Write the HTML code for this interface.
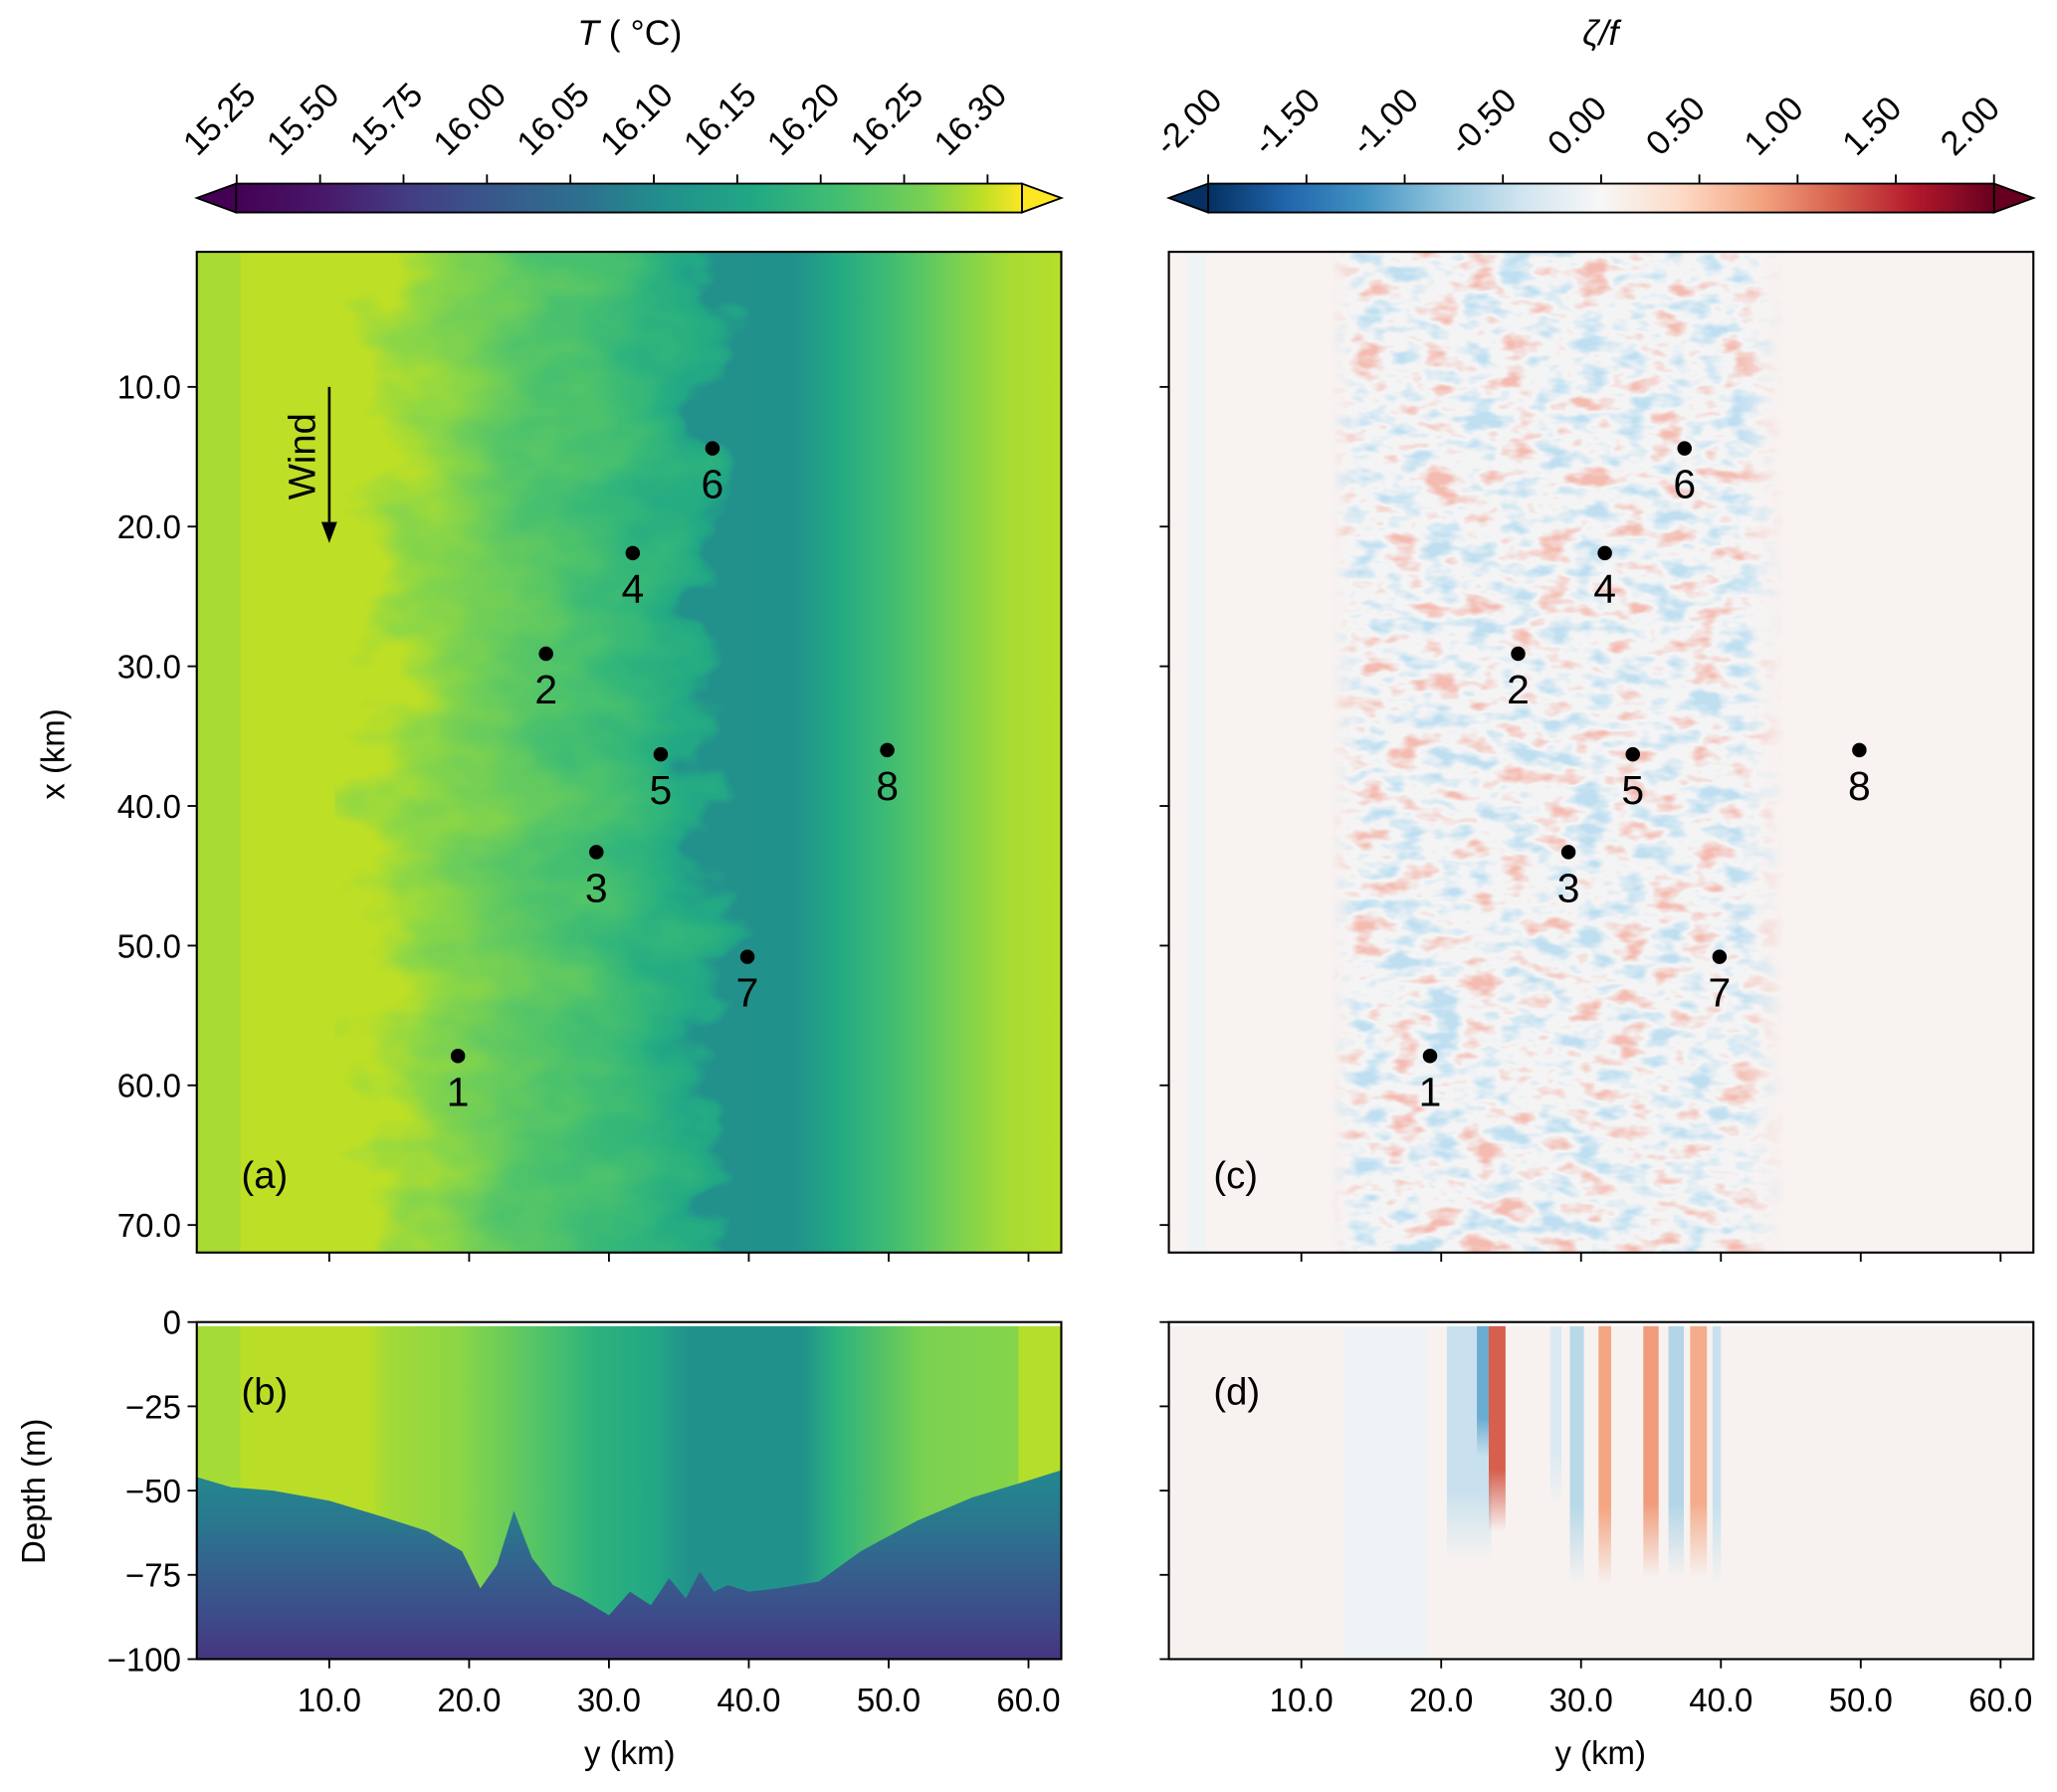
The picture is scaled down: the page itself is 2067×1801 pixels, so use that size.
<!DOCTYPE html>
<html><head><meta charset="utf-8"><style>
html,body{margin:0;padding:0;background:#fff}
svg{display:block}
text{font-family:"Liberation Sans","DejaVu Sans",sans-serif;fill:#000}
</style></head><body>
<svg id="fig" width="2067" height="1801" viewBox="0 0 1568 1366.3" preserveAspectRatio="none" xmlns="http://www.w3.org/2000/svg">
<defs>
  <linearGradient id="gA" gradientUnits="userSpaceOnUse" x1="150" x2="809" y1="0" y2="0">
    <stop offset="0" stop-color="#a8db34"/><stop offset="0.05" stop-color="#a8db34"/>
    <stop offset="0.051" stop-color="#bddf26"/><stop offset="0.2" stop-color="#bddf26"/>
    <stop offset="0.26" stop-color="#8fd744"/><stop offset="0.34" stop-color="#6ccd5a"/>
    <stop offset="0.43" stop-color="#4ac16d"/><stop offset="0.52" stop-color="#2fb47c"/>
    <stop offset="0.58" stop-color="#22a785"/><stop offset="0.6" stop-color="#21918c"/>
    <stop offset="0.69" stop-color="#21918c"/><stop offset="0.74" stop-color="#22a884"/>
    <stop offset="0.81" stop-color="#44bf70"/><stop offset="0.88" stop-color="#7ad151"/>
    <stop offset="0.94" stop-color="#a8db34"/><stop offset="1" stop-color="#b5de2b"/>
  </linearGradient>
  <linearGradient id="gB" gradientUnits="userSpaceOnUse" x1="150" x2="809" y1="0" y2="0">
    <stop offset="0" stop-color="#a5db36"/><stop offset="0.05" stop-color="#a5db36"/>
    <stop offset="0.051" stop-color="#bade28"/><stop offset="0.2" stop-color="#bade28"/>
    <stop offset="0.22" stop-color="#a2da37"/><stop offset="0.3" stop-color="#8ed645"/>
    <stop offset="0.33" stop-color="#7ad151"/><stop offset="0.41" stop-color="#4ac16d"/>
    <stop offset="0.46" stop-color="#2db27d"/><stop offset="0.53" stop-color="#22a785"/>
    <stop offset="0.57" stop-color="#21918c"/><stop offset="0.7" stop-color="#21918c"/>
    <stop offset="0.74" stop-color="#2db27d"/><stop offset="0.84" stop-color="#7ad151"/>
    <stop offset="0.95" stop-color="#86d549"/><stop offset="0.951" stop-color="#b5de2b"/>
    <stop offset="1" stop-color="#b5de2b"/>
  </linearGradient>
  <linearGradient id="gDeep" gradientUnits="userSpaceOnUse" x1="0" x2="0" y1="1120" y2="1265">
    <stop offset="0" stop-color="#23898e"/><stop offset="0.3" stop-color="#2a768e"/>
    <stop offset="0.55" stop-color="#355f8d"/><stop offset="0.8" stop-color="#3e4989"/>
    <stop offset="1" stop-color="#463480"/>
  </linearGradient>
  <linearGradient id="gCbT" gradientUnits="userSpaceOnUse" x1="180" x2="779" y1="0" y2="0">
    <stop offset="0" stop-color="#440154"/><stop offset="0.11" stop-color="#48186a"/>
    <stop offset="0.22" stop-color="#433d84"/><stop offset="0.33" stop-color="#38598c"/>
    <stop offset="0.44" stop-color="#2d708e"/><stop offset="0.55" stop-color="#21918c"/>
    <stop offset="0.66" stop-color="#22a884"/><stop offset="0.77" stop-color="#44bf70"/>
    <stop offset="0.88" stop-color="#7ad151"/><stop offset="0.95" stop-color="#bddf26"/>
    <stop offset="1" stop-color="#fde725"/>
  </linearGradient>
  <linearGradient id="gCbV" gradientUnits="userSpaceOnUse" x1="921" x2="1520" y1="0" y2="0">
    <stop offset="0" stop-color="#053061"/><stop offset="0.1" stop-color="#2166ac"/>
    <stop offset="0.2" stop-color="#4393c3"/><stop offset="0.3" stop-color="#92c5de"/>
    <stop offset="0.4" stop-color="#d1e5f0"/><stop offset="0.5" stop-color="#f7f7f7"/>
    <stop offset="0.6" stop-color="#fddbc7"/><stop offset="0.7" stop-color="#f4a582"/>
    <stop offset="0.8" stop-color="#d6604d"/><stop offset="0.9" stop-color="#b2182b"/>
    <stop offset="1" stop-color="#67001f"/>
  </linearGradient>
  <filter id="warp" filterUnits="userSpaceOnUse" x="100" y="150" width="760" height="850">
    <feTurbulence type="fractalNoise" baseFrequency="0.014 0.022" numOctaves="3" seed="7" result="n"/>
    <feDisplacementMap in="SourceGraphic" in2="n" scale="120" xChannelSelector="R" yChannelSelector="G"/>
  </filter>
  <filter id="vort" filterUnits="userSpaceOnUse" x="1000" y="192" width="380" height="763">
    <feTurbulence type="fractalNoise" baseFrequency="0.035 0.07" numOctaves="3" seed="3" result="n"/>
    <feColorMatrix in="n" type="matrix" values="0 0 0 0 0.9  0 0 0 0 0.5  0 0 0 0 0.44  4.5 0 0 0 -2.55" result="red"/>
    <feColorMatrix in="n" type="matrix" values="0 0 0 0 0.52  0 0 0 0 0.74  0 0 0 0 0.88  -4.5 0 0 0 2.15" result="blue"/>
    <feMerge><feMergeNode in="red"/><feMergeNode in="blue"/></feMerge>
  </filter>
  <linearGradient id="bandMask" gradientUnits="userSpaceOnUse" x1="1015" x2="1360" y1="0" y2="0">
    <stop offset="0" stop-color="#fff" stop-opacity="0"/><stop offset="0.06" stop-color="#fff" stop-opacity="1"/>
    <stop offset="0.9" stop-color="#fff" stop-opacity="1"/><stop offset="1" stop-color="#fff" stop-opacity="0"/>
  </linearGradient>
  <mask id="mBand"><rect x="1000" y="192" width="380" height="763" fill="url(#bandMask)"/></mask>
  <clipPath id="clipA"><rect x="150" y="192" width="659" height="763"/></clipPath>
  <clipPath id="clipMix"><rect x="255" y="192" width="320" height="763"/></clipPath>
  <clipPath id="clipB"><rect x="150" y="1011" width="659" height="254"/></clipPath>
  <clipPath id="clipD"><rect x="891" y="1011" width="659" height="254"/></clipPath>
  <marker id="arr" markerWidth="12" markerHeight="16" refX="6" refY="14" orient="auto-start-reverse" markerUnits="userSpaceOnUse" viewBox="0 0 12 16">
    <path d="M0,0 L6,16 L12,0 Z" fill="#000"/>
  </marker>
</defs>
<g id="layer"></g>
</svg>
<script>
// ---- data ----
const ptY = [19.2, 25.5, 29.1, 31.7, 33.7, 37.4, 39.9, 49.9];
const ptX = [57.9, 29.1, 43.3, 21.9, 36.3, 14.4, 50.8, 36.0];
const ptLabels = ["1","2","3","4","5","6","7","8"];
const yTicks = [10, 20, 30, 40, 50, 60];
const xTicks = [10, 20, 30, 40, 50, 60, 70];
const depthTicks = [0, -25, -50, -75, -100];
const tempTickLabels = ["15.25","15.50","15.75","16.00","16.05","16.10","16.15","16.20","16.25","16.30"];
const vortTickValues = [-2, -1.5, -1, -0.5, 0, 0.5, 1, 1.5, 2];
const mldKm = [0.5, 3, 6, 10, 14, 17, 19.5, 20.8, 22, 23.2, 24.5, 26, 28, 30, 31.5, 33, 34.3, 35.5, 36.5, 37.5, 38.5, 40, 42, 45, 48, 52, 56, 60, 62.3];
const mldDepth = [-46, -49, -50, -53, -58, -62, -68, -79, -72, -56, -70, -78, -82, -87, -80, -84, -76, -82, -74, -80, -78, -80, -79, -77, -68, -59, -52, -47, -44];
const stripeKm = [22.0, 23.0, 24.0, 28.2, 29.7, 31.7, 35.0, 36.8, 38.4, 39.7];
const stripeWidth = [3.2, 0.9, 1.2, 0.8, 1.0, 0.9, 1.1, 1.1, 1.2, 0.6];
const stripeVal = [-0.45, -1.0, 1.2, -0.3, -0.55, 0.8, 0.85, -0.6, 0.75, -0.45];
const stripeBottom = [-71, -40, -62, -55, -78, -78, -76, -76, -76, -78];

// ---- scales ----
const NS = "http://www.w3.org/2000/svg";
const L = document.getElementById("layer");
const yS = km => 144.4 + km * 10.66;
const xS = km => 188.5 + km * 10.65;
const dS = m => 1008 + (-m) * 2.57;
const OFF = 741;
function el(tag, attrs, parent) {
  const e = document.createElementNS(NS, tag);
  for (const k in attrs) e.setAttribute(k, attrs[k]);
  (parent || L).appendChild(e);
  return e;
}
function txt(s, attrs, parent) { const t = el("text", attrs, parent); t.textContent = s; return t; }
const RDBU = [[5,48,97],[33,102,172],[67,147,195],[146,197,222],[209,229,240],[247,247,247],[253,219,199],[244,165,130],[214,96,77],[178,24,43],[103,0,31]];
function vcol(v) {
  let t = (v + 2) / 4 * 10; t = Math.max(0, Math.min(10, t));
  const i = Math.min(9, Math.floor(t)), f = t - i;
  const c = RDBU[i].map((a, k) => Math.round(a + (RDBU[i + 1][k] - a) * f));
  return "rgb(" + c.join(",") + ")";
}

// ---- panel (a) ----
const gA = el("g", {"clip-path": "url(#clipA)"});


el("rect", {x: 150, y: 192, width: 659, height: 763, fill: "url(#gA)"}, gA);
const mix = el("g", {"clip-path": "url(#clipMix)"}, gA);
el("rect", {x: 60, y: 100, width: 840, height: 950, fill: "url(#gA)", filter: "url(#warp)"}, mix);

// ---- panel (c) ----
const gC = el("g", {});


el("rect", {x: 891, y: 192, width: 659, height: 763, fill: "#f8f2f0"}, gC);
el("rect", {x: 905, y: 192, width: 14, height: 763, fill: "#eef3f6"}, gC);
el("rect", {x: 1000, y: 192, width: 380, height: 763, fill: "#f4f4f5", mask: "url(#mBand)"}, gC);
const band = el("g", {mask: "url(#mBand)"}, gC);
el("rect", {x: 1000, y: 192, width: 380, height: 763, fill: "#fff", filter: "url(#vort)"}, band);

// ---- panel (b) ----
const gB = el("g", {"clip-path": "url(#clipB)"});


el("rect", {x: 150, y: 1011, width: 659, height: 254, fill: "url(#gB)"}, gB);
let pts = [[150, 1270]];
mldKm.forEach((k, i) => pts.push([yS(k), dS(mldDepth[i])]));
pts.push([809, dS(mldDepth[mldDepth.length - 1])], [809, 1270]);
pts[1][0] = 150;
const deep = el("polygon", {points: pts.map(p => p.join(",")).join(" "), fill: "url(#gDeep)"}, gB);


el("rect", {x: 150, y: 1008, width: 659, height: 3, fill: "#fff"});

// ---- panel (d) ----
const gD = el("g", {"clip-path": "url(#clipD)"});


el("rect", {x: 891, y: 1011, width: 659, height: 254, fill: "#f7f2f0"}, gD);
el("rect", {x: yS(13) + OFF, y: 1011, width: yS(19) - yS(13), height: 254, fill: "#f0f3f5"}, gD);
stripeKm.forEach((k, i) => {
  const c = vcol(stripeVal[i]);
  const gid = "sg" + i;
  const lg = el("linearGradient", {id: gid, x1: 0, x2: 0, y1: 0, y2: 1}, document.querySelector("defs"));
  el("stop", {offset: 0, "stop-color": c}, lg);
  el("stop", {offset: 0.7, "stop-color": c}, lg);
  el("stop", {offset: 1, "stop-color": c, "stop-opacity": 0}, lg);
  const x0 = yS(k - stripeWidth[i] / 2) + OFF, x1 = yS(k + stripeWidth[i] / 2) + OFF;
  const r = el("rect", {x: x0, y: 1011, width: x1 - x0, height: dS(stripeBottom[i]) - 1011, fill: "url(#" + gid + ")"}, gD);
  
  
});
el("rect", {x: 891, y: 1008, width: 659, height: 3, fill: "#fff"});

// ---- frames ----
[[150,192,659,763,"panel-a-frame"],[891,192,659,763,"panel-c-frame"],[150,1008,659,257,"panel-b-frame"],[891,1008,659,257,"panel-d-frame"]].forEach(f => {
  const r = el("rect", {x: f[0], y: f[1], width: f[2], height: f[3], fill: "none", stroke: "#000", "stroke-width": 1.6});
  
  
});

// ---- axes ticks ----
xTicks.forEach(v => {
  const y = xS(v);
  el("line", {x1: 143, x2: 150, y1: y, y2: y, stroke: "#000", "stroke-width": 1.4});
  el("line", {x1: 884, x2: 891, y1: y, y2: y, stroke: "#000", "stroke-width": 1.4});
  const t = txt(v.toFixed(1), {x: 138, y: y + 9, "font-size": 25, "text-anchor": "end"});
  
  
});
yTicks.forEach(v => {
  [0, OFF].forEach(o => {
    const x = yS(v) + o;
    el("line", {x1: x, x2: x, y1: 955, y2: 962, stroke: "#000", "stroke-width": 1.4});
    el("line", {x1: x, x2: x, y1: 1265, y2: 1272, stroke: "#000", "stroke-width": 1.4});
    const t = txt(v.toFixed(1), {x: x, y: 1305, "font-size": 25, "text-anchor": "middle"});
    
    
  });
});
depthTicks.forEach(v => {
  const y = dS(v);
  el("line", {x1: 143, x2: 150, y1: y, y2: y, stroke: "#000", "stroke-width": 1.4});
  el("line", {x1: 884, x2: 891, y1: y, y2: y, stroke: "#000", "stroke-width": 1.4});
  const t = txt(v === 0 ? "0" : "\u2212" + Math.abs(v), {x: 138, y: y + 9, "font-size": 25, "text-anchor": "end"});
  
  
});
let a;
a = txt("x (km)", {x: 0, y: 0, "font-size": 25, "text-anchor": "middle", transform: "translate(49,575) rotate(-90)"});
 
a = txt("Depth (m)", {x: 0, y: 0, "font-size": 25, "text-anchor": "middle", transform: "translate(34,1137) rotate(-90)"});
 
a = txt("y (km)", {x: 480, y: 1345, "font-size": 25, "text-anchor": "middle"});
 
a = txt("y (km)", {x: 1220, y: 1345, "font-size": 25, "text-anchor": "middle"});
 

// ---- panel letters ----
[["(a)",184,906],["(c)",925,906],["(b)",184,1071],["(d)",925,1071]].forEach(p => {
  const t = txt(p[0], {x: p[1], y: p[2], "font-size": 29});
  
  
});

// ---- points ----
ptY.forEach((yk, i) => {
  [0, OFF].forEach(o => {
    const cx = yS(yk) + o, cy = xS(ptX[i]);
    const c = el("circle", {cx: cx, cy: cy, r: 5.5, fill: "#000"});
    
    
    const t = txt(ptLabels[i], {x: cx, y: cy + 38, "font-size": 31, "text-anchor": "middle"});
    
    
  });
});

// ---- wind arrow ----
const w = el("line", {x1: 251, y1: 295, x2: 251, y2: 398, stroke: "#000", "stroke-width": 2});


const wh = el("path", {d: "M245,398 L257,398 L251,414 Z", fill: "#000"});


a = txt("Wind", {x: 0, y: 0, "font-size": 29, "text-anchor": "middle", transform: "translate(240,348) rotate(-90)"});
 

// ---- colorbars ----
const cbT = el("g", {});


el("polygon", {points: "150,151 180,140 180,162", fill: "#440154", stroke: "#000", "stroke-width": 1.4}, cbT);
el("polygon", {points: "809,151 779,140 779,162", fill: "#fde725", stroke: "#000", "stroke-width": 1.4}, cbT);
el("rect", {x: 180, y: 140, width: 599, height: 22, fill: "url(#gCbT)", stroke: "#000", "stroke-width": 1.4}, cbT);
tempTickLabels.forEach((s, i) => {
  const x = 180.4 + i * 63.6;
  el("line", {x1: x, x2: x, y1: 133, y2: 140, stroke: "#000", "stroke-width": 1.4}, cbT);
  const t = txt(s, {x: 0, y: 0, "font-size": 26, "text-anchor": "start", transform: "translate(" + (x - 30) + ",120) rotate(-45)"}, cbT);
  
  
});
const tt = el("text", {x: 480, y: 34, "font-size": 27, "text-anchor": "middle"}, cbT);
tt.innerHTML = '<tspan font-style="italic">T</tspan> ( \u00b0C)';



const cbV = el("g", {});


el("polygon", {points: "891,151 921,140 921,162", fill: "#053061", stroke: "#000", "stroke-width": 1.4}, cbV);
el("polygon", {points: "1550,151 1520,140 1520,162", fill: "#67001f", stroke: "#000", "stroke-width": 1.4}, cbV);
el("rect", {x: 921, y: 140, width: 599, height: 22, fill: "url(#gCbV)", stroke: "#000", "stroke-width": 1.4}, cbV);
vortTickValues.forEach(v => {
  const x = 921 + (v + 2) / 4 * 599;
  el("line", {x1: x, x2: x, y1: 133, y2: 140, stroke: "#000", "stroke-width": 1.4}, cbV);
  const t = txt(v.toFixed(2), {x: 0, y: 0, "font-size": 26, "text-anchor": "start", transform: "translate(" + (x - 30) + ",120) rotate(-45)"}, cbV);
  
  
});
const vt = el("text", {x: 1220, y: 34, "font-size": 27, "text-anchor": "middle", "font-style": "italic"}, cbV);
vt.textContent = "\u03b6/f";


</script>
</body></html>
